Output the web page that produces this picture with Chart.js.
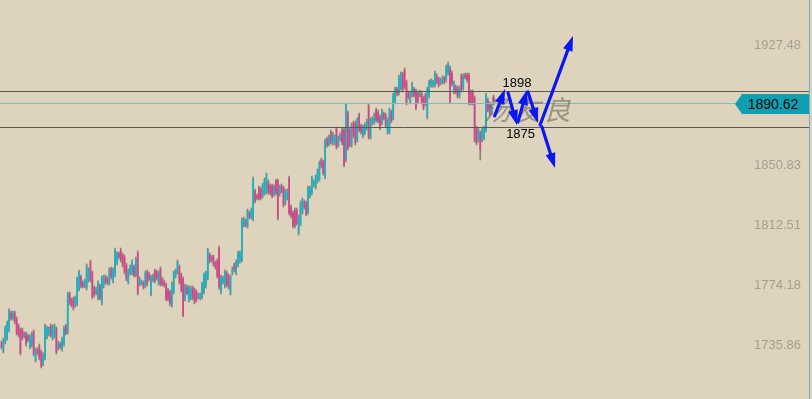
<!DOCTYPE html>
<html>
<head>
<meta charset="utf-8">
<script src="https://cdn.jsdelivr.net/npm/chart.js@4.4.0/dist/chart.umd.min.js"></script>
<style>
html, body { margin: 0; padding: 0; background: #ded4bd; overflow: hidden; }
canvas { display: block; }
</style>
</head>
<body>
<canvas id="GoldBarsChart" width="812" height="399"></canvas>
<script>
// bar values (one entry per bar, oldest first)
var opens = [
    1737.2,1732.0,1737.8,1740.3,1745.5,1756.3,1753.1,1756.3,1752.5,1748.0,
    1745.5,1745.5,1741.6,1742.9,1741.6,1734.6,1735.9,1744.2,1726.3,1732.7,
    1735.2,1731.4,1723.8,1727.6,1741.0,1742.9,1748.0,1740.3,1741.6,1746.1,
    1734.0,1736.5,1733.3,1736.5,1748.0,1744.2,1768.5,1764.6,1765.3,1761.4,
    1762.1,1771.6,1779.3,1775.5,1773.6,1772.3,1777.4,1788.9,1781.9,1772.3,
    1769.1,1765.9,1773.6,1762.7,1773.6,1779.3,1778.0,1775.5,1784.4,1776.8,
    1780.6,1788.2,1794.0,1796.5,1793.3,1792.1,1787.0,1776.1,1781.9,1781.9,
    1785.7,1780.6,1794.6,1774.8,1775.5,1775.5,1773.6,1782.5,1781.2,1768.5,
    1777.4,1783.1,1782.5,1775.5,1784.4,1778.0,1776.1,1774.2,1771.0,1769.7,
    1761.4,1769.7,1779.9,1782.5,1785.7,1780.6,1778.0,1765.3,1772.9,1764.6,
    1765.9,1772.3,1771.0,1769.7,1766.5,1765.9,1766.5,1769.7,1773.6,1778.7,
    1793.3,1792.1,1792.1,1788.2,1789.5,1797.8,1769.7,1776.1,1773.6,1781.9,
    1779.9,1769.1,1781.9,1787.0,1781.9,1787.0,1789.5,1790.2,1812.5,1815.1,
    1811.9,1820.2,1817.6,1816.3,1834.2,1831.0,1836.1,1835.5,1831.0,1833.0,
    1833.6,1840.0,1837.4,1837.4,1832.3,1840.6,1840.6,1832.3,1837.4,1836.1,
    1826.6,1829.8,1842.5,1824.0,1820.2,1822.1,1822.1,1807.4,1813.2,1820.8,
    1827.2,1826.6,1820.8,1831.0,1833.0,1838.1,1836.8,1840.6,1841.9,1854.0,
    1852.8,1843.2,1867.4,1864.2,1871.9,1864.9,1864.9,1873.8,1863.6,1867.4,
    1873.2,1873.2,1854.0,1884.0,1873.2,1863.6,1877.7,1877.7,1866.8,1882.8,
    1875.7,1869.4,1871.3,1874.5,1888.5,1868.7,1877.7,1878.3,1886.0,1884.7,
    1881.5,1877.7,1883.4,1882.8,1871.9,1871.9,1884.7,1880.9,1891.1,1899.4,
    1896.8,1900.0,1909.0,1911.5,1903.8,1896.8,1891.1,1895.5,1899.4,1898.1,
    1896.8,1895.5,1896.8,1893.6,1895.5,1881.5,1894.9,1901.9,1901.9,1901.9,
    1907.7,1905.8,1903.2,1903.8,1906.4,1905.1,1909.6,1912.8,1909.6,1897.5,
    1900.6,1900.0,1894.9,1907.7,1900.0,1908.3,1908.3,1908.3,1897.5,1897.5,
    1893.6,1874.5,1866.8,1871.3,1866.8,1868.1,1873.2,1892.3,1889.8,1884.7,1894.3
];
var highs = [
    1738.4,1740.3,1748.0,1751.2,1758.9,1757.6,1757.6,1757.6,1753.8,1749.3,
    1746.7,1746.7,1744.2,1744.2,1742.9,1742.3,1744.2,1745.5,1734.0,1734.0,
    1736.5,1732.7,1730.8,1749.3,1748.0,1747.4,1749.3,1748.6,1749.3,1747.4,
    1738.4,1737.8,1741.0,1748.0,1749.3,1769.7,1769.7,1765.9,1766.5,1767.2,
    1779.3,1783.8,1780.6,1776.8,1778.0,1787.6,1785.1,1790.2,1783.1,1773.6,
    1772.9,1776.8,1774.8,1779.9,1780.6,1780.6,1779.3,1785.1,1785.7,1785.1,
    1797.8,1795.3,1795.3,1797.8,1794.6,1793.3,1788.2,1784.4,1787.0,1790.2,
    1787.0,1792.1,1795.9,1779.3,1777.4,1776.8,1783.1,1783.8,1782.5,1780.6,
    1781.2,1784.4,1783.8,1783.1,1785.7,1779.3,1777.4,1775.5,1772.3,1771.0,
    1776.1,1783.1,1784.4,1790.2,1787.0,1781.9,1779.3,1774.8,1774.2,1773.6,
    1773.6,1773.6,1772.3,1771.0,1769.1,1769.1,1776.1,1781.9,1783.1,1797.8,
    1794.6,1793.3,1793.3,1789.5,1790.8,1799.1,1780.6,1779.9,1783.8,1783.1,
    1781.2,1780.6,1785.7,1788.2,1790.2,1795.9,1795.9,1817.0,1817.6,1816.3,
    1822.7,1821.5,1823.4,1843.2,1835.5,1832.3,1837.4,1836.8,1839.3,1842.5,
    1845.7,1841.3,1838.7,1838.7,1838.1,1841.9,1841.9,1838.1,1838.7,1837.4,
    1835.5,1835.5,1843.8,1825.3,1821.5,1823.4,1823.4,1818.9,1827.8,1829.8,
    1828.5,1827.8,1837.4,1837.4,1843.8,1841.3,1844.4,1848.3,1853.4,1855.3,
    1854.0,1867.4,1868.7,1870.0,1873.2,1871.9,1870.0,1875.1,1869.4,1871.3,
    1874.5,1874.5,1890.4,1885.3,1874.5,1877.7,1878.9,1878.9,1880.9,1884.0,
    1877.0,1876.4,1877.7,1880.2,1889.8,1880.9,1881.5,1884.0,1887.2,1886.0,
    1882.8,1886.6,1884.7,1884.0,1880.9,1887.2,1886.0,1896.8,1900.6,1900.6,
    1908.3,1910.2,1910.2,1912.8,1905.1,1898.1,1898.1,1903.8,1900.6,1899.4,
    1898.1,1898.7,1898.1,1894.9,1896.8,1900.6,1905.1,1905.8,1905.1,1910.9,
    1909.0,1907.0,1906.4,1907.7,1907.7,1914.7,1916.6,1914.1,1910.9,1904.5,
    1901.9,1901.3,1901.3,1909.0,1909.0,1909.6,1909.6,1909.6,1898.7,1898.7,
    1894.9,1875.7,1874.5,1872.5,1874.5,1875.7,1896.8,1893.6,1891.1,1890.4,1895.5
];
var lows = [
    1733.3,1730.8,1736.5,1739.1,1744.2,1751.8,1751.8,1749.3,1742.3,1741.0,
    1729.5,1739.1,1740.3,1735.2,1737.8,1733.3,1734.6,1728.9,1725.0,1729.5,
    1726.3,1721.2,1722.5,1726.3,1739.7,1741.6,1741.0,1739.1,1740.3,1730.1,
    1732.7,1733.3,1732.0,1735.2,1742.3,1742.9,1761.4,1760.1,1758.2,1760.1,
    1760.8,1770.4,1772.3,1772.3,1772.3,1771.0,1776.1,1776.1,1765.3,1766.5,
    1767.8,1764.6,1764.6,1761.4,1772.3,1774.8,1774.2,1774.2,1778.0,1775.5,
    1779.3,1787.0,1790.8,1788.9,1785.7,1781.2,1776.8,1774.8,1780.6,1780.6,
    1779.3,1779.3,1767.8,1773.6,1774.2,1771.6,1772.3,1773.6,1776.8,1767.2,
    1776.1,1775.5,1777.4,1774.2,1773.6,1773.6,1772.9,1764.0,1764.0,1760.8,
    1760.1,1768.5,1778.7,1781.2,1774.8,1769.7,1753.8,1764.0,1767.8,1763.3,
    1764.6,1764.6,1762.1,1763.3,1765.3,1764.6,1765.3,1768.5,1772.3,1777.4,
    1788.2,1788.9,1786.3,1784.4,1778.7,1771.6,1768.5,1774.8,1772.3,1772.9,
    1771.6,1767.8,1780.6,1782.5,1780.6,1785.7,1788.2,1788.9,1811.2,1811.2,
    1810.6,1816.3,1816.3,1815.1,1826.6,1828.5,1828.5,1828.5,1829.8,1831.7,
    1832.3,1832.3,1831.7,1829.8,1831.0,1831.7,1815.7,1831.0,1833.0,1824.0,
    1825.3,1828.5,1818.9,1817.0,1810.6,1810.6,1812.5,1806.1,1811.9,1819.5,
    1822.7,1818.3,1819.5,1829.8,1831.7,1836.8,1835.5,1839.3,1840.6,1848.9,
    1844.4,1841.9,1862.3,1863.0,1864.2,1863.6,1863.6,1861.0,1862.3,1866.2,
    1863.6,1849.6,1852.8,1860.4,1862.3,1862.3,1868.1,1863.6,1865.5,1871.9,
    1870.6,1868.1,1870.0,1873.2,1867.4,1867.4,1876.4,1877.0,1878.3,1877.7,
    1873.2,1876.4,1879.6,1875.1,1870.6,1870.6,1877.7,1879.6,1889.8,1894.9,
    1895.5,1898.7,1897.5,1899.4,1889.2,1893.0,1889.8,1894.3,1894.3,1886.0,
    1890.4,1894.3,1889.8,1886.0,1888.5,1880.2,1893.6,1900.6,1900.6,1900.6,
    1902.6,1900.6,1901.9,1902.6,1902.6,1903.8,1908.3,1889.8,1901.3,1896.2,
    1896.2,1893.6,1893.6,1897.5,1898.7,1905.8,1903.8,1889.2,1889.2,1889.2,
    1865.5,1863.6,1865.5,1854.0,1865.5,1866.8,1871.9,1884.7,1882.1,1883.4,1889.2
];
var closes = [
    1734.6,1739.1,1746.7,1749.9,1757.6,1753.1,1756.3,1750.6,1743.5,1742.3,
    1730.8,1740.3,1742.9,1736.5,1739.1,1741.0,1742.9,1730.1,1732.7,1730.8,
    1727.6,1722.5,1729.5,1748.0,1746.7,1746.1,1742.3,1747.4,1748.0,1731.4,
    1737.2,1734.6,1739.7,1746.7,1743.5,1768.5,1762.7,1761.4,1759.5,1765.9,
    1778.0,1782.5,1773.6,1773.6,1776.8,1786.3,1783.8,1777.4,1766.5,1767.8,
    1771.6,1775.5,1765.9,1778.7,1779.3,1776.1,1775.5,1783.8,1779.3,1783.8,
    1796.5,1794.0,1792.1,1790.2,1787.0,1782.5,1778.0,1783.1,1785.7,1788.9,
    1780.6,1790.8,1769.1,1778.0,1776.1,1772.9,1781.9,1774.8,1778.0,1779.3,
    1779.9,1776.8,1778.7,1781.9,1774.8,1774.8,1774.2,1765.3,1765.3,1762.1,
    1774.8,1781.9,1783.1,1788.9,1776.1,1771.0,1755.0,1773.6,1769.1,1772.3,
    1772.3,1765.9,1763.3,1764.6,1767.8,1767.8,1774.8,1780.6,1781.9,1796.5,
    1789.5,1790.2,1787.6,1785.7,1779.9,1772.9,1779.3,1778.7,1782.5,1774.2,
    1772.9,1779.3,1784.4,1783.8,1788.9,1794.6,1794.6,1815.7,1816.3,1812.5,
    1821.5,1817.6,1822.1,1841.9,1827.8,1829.8,1829.8,1829.8,1838.1,1841.3,
    1844.4,1833.6,1833.0,1831.0,1836.8,1833.0,1817.0,1836.8,1834.2,1825.3,
    1834.2,1834.2,1820.2,1818.3,1811.9,1811.9,1813.8,1817.6,1826.6,1828.5,
    1824.0,1819.5,1836.1,1836.1,1842.5,1840.0,1843.2,1847.0,1852.1,1850.2,
    1845.7,1866.2,1863.6,1868.7,1865.5,1870.6,1868.7,1862.3,1868.1,1870.0,
    1864.9,1850.8,1889.2,1861.7,1863.6,1876.4,1869.4,1864.9,1879.6,1873.2,
    1871.9,1875.1,1876.4,1878.9,1868.7,1879.6,1880.2,1882.8,1879.6,1878.9,
    1874.5,1885.3,1880.9,1876.4,1879.6,1886.0,1878.9,1895.5,1899.4,1896.2,
    1907.0,1909.0,1898.7,1900.6,1890.4,1894.3,1896.8,1902.6,1895.5,1887.2,
    1891.7,1897.5,1891.1,1887.2,1889.8,1899.4,1903.8,1904.5,1903.8,1909.6,
    1903.8,1901.9,1905.1,1906.4,1903.8,1913.4,1915.3,1891.1,1902.6,1903.2,
    1897.5,1894.9,1900.0,1898.7,1907.7,1907.0,1905.1,1890.4,1890.4,1890.4,
    1866.8,1864.9,1873.2,1860.4,1873.2,1874.5,1895.5,1886.0,1883.4,1889.2,1890.62
];

var priceTicks = [1927.48, 1850.83, 1812.51, 1774.18, 1735.86];
var levelLines = [1898, 1875];
var levelLabels = ["1898", "1875"];
var lastPrice = 1890.62;
var watermarkText = "汤友良";

// hand drawn arrows: [from bar, from price, to bar, to price]
var arrowPaths = [
    [260.6, 1882.2, 266.1, 1899.4],
    [267.7, 1896.8, 272.4, 1876.4],
    [272.9, 1878.3, 277.7, 1898.7],
    [278.2, 1897.5, 283.5, 1877.7],
    [284.6, 1876.4, 302.0, 1933.2],
    [285.6, 1875.1, 292.5, 1848.9]
];
var labelBars = [272.4, 274.3];
var labelPrices = [1903.2, 1870.6];
var watermarkBar = 277.7;
var watermarkPrice = 1886.0;

var UP_COLOR = "#12b4c8";
var DOWN_COLOR = "#d8418c";
var WICK_COLOR = "#8a8478";
var FONT = '"Liberation Sans", Arial, sans-serif';


function drawArrow(ctx, x0, y0, x1, y1) {
    var ang = Math.atan2(y1 - y0, x1 - x0);
    var len = 15, half = 5;
    var bx = x1 - Math.cos(ang) * len, by = y1 - Math.sin(ang) * len;
    ctx.beginPath();
    ctx.moveTo(x0, y0);
    ctx.lineTo(bx, by);
    ctx.stroke();
    ctx.beginPath();
    ctx.moveTo(x1, y1);
    ctx.lineTo(bx + Math.sin(ang) * half, by - Math.cos(ang) * half);
    ctx.lineTo(bx - Math.sin(ang) * half, by + Math.cos(ang) * half);
    ctx.closePath();
    ctx.fill();
}


var overlayPlugin = {
    id: "overlay",
    afterDatasetsDraw: function (chart) {
        var ctx = chart.ctx;
        var xs = chart.scales.x, ys = chart.scales.y;
        var area = chart.chartArea;
        ctx.save();

        // current price line
        var py = Math.round(ys.getPixelForValue(lastPrice)) + 0.5;
        ctx.strokeStyle = "#7fbcbf";
        ctx.lineWidth = 1;
        ctx.beginPath();
        ctx.moveTo(area.left, py);
        ctx.lineTo(area.right, py);
        ctx.stroke();

        // horizontal levels
        ctx.strokeStyle = "#5c5850";
        for (var i = 0; i < levelLines.length; i++) {
            var ly = Math.round(ys.getPixelForValue(levelLines[i])) + 0.5;
            ctx.beginPath();
            ctx.moveTo(area.left, ly);
            ctx.lineTo(area.right, ly);
            ctx.stroke();
        }

        // watermark, one glyph at a time so it spreads like the original
        var wx = xs.getPixelForValue(watermarkBar), wy = ys.getPixelForValue(watermarkPrice);
        ctx.font = "italic 27px 'Noto Sans CJK SC'";
        ctx.textAlign = "center";
        ctx.textBaseline = "middle";
        ctx.fillStyle = "rgba(112,106,96,0.62)";
        var chars = Array.from(watermarkText);
        for (var c = 0; c < chars.length; c++) {
            ctx.fillText(chars[c], wx + (c - 1) * 30, wy);
        }

        // arrows
        ctx.strokeStyle = "#0b17f2";
        ctx.fillStyle = "#0b17f2";
        ctx.lineWidth = 3.2;
        ctx.lineCap = "round";
        arrowPaths.forEach(function (a) {
            drawArrow(ctx, xs.getPixelForValue(a[0]), ys.getPixelForValue(a[1]),
                      xs.getPixelForValue(a[2]), ys.getPixelForValue(a[3]));
        });

        // level labels
        ctx.font = "13px " + FONT;
        ctx.fillStyle = "#000000";
        for (var j = 0; j < levelLabels.length; j++) {
            ctx.fillText(levelLabels[j], xs.getPixelForValue(labelBars[j]), ys.getPixelForValue(labelPrices[j]));
        }
        ctx.restore();
    },
    afterDraw: function (chart) {
        // price tag on the axis
        var ctx = chart.ctx, ys = chart.scales.y;
        var y = Math.round(ys.getPixelForValue(lastPrice)) + 1;
        var r = ys.left;
        ctx.save();
        ctx.fillStyle = "#109fb1";
        ctx.beginPath();
        ctx.moveTo(r, y - 10);
        ctx.lineTo(r - 67, y - 10);
        ctx.lineTo(r - 74, y);
        ctx.lineTo(r - 67, y + 10);
        ctx.lineTo(r, y + 10);
        ctx.closePath();
        ctx.fill();
        ctx.fillStyle = "#000000";
        ctx.font = "14px " + FONT;
        ctx.textAlign = "center";
        ctx.textBaseline = "middle";
        ctx.fillText(lastPrice.toFixed(2), r - 36, y + 1);
        ctx.restore();
    }
};


document.addEventListener("DOMContentLoaded", function () {
    var bodies = [], wicks = [], colors = [];
    for (var i = 0; i < opens.length; i++) {
        bodies.push({x: i, y: [opens[i], closes[i]]});
        wicks.push({x: i, y: [lows[i], highs[i]]});
        colors.push(closes[i] >= opens[i] ? UP_COLOR : DOWN_COLOR);
    }

    var canvas = document.getElementById("GoldBarsChart");
    new Chart(canvas, {
        type: "bar",
        data: {
            datasets: [
                {label: "body", data: bodies, backgroundColor: colors, barThickness: 1, grouped: false, order: 1},
                {label: "wick", data: wicks, backgroundColor: WICK_COLOR, barThickness: 1, grouped: false, order: 2}
            ]
        },
        options: {
            responsive: false,
            animation: false,
            devicePixelRatio: 1,
            layout: {padding: {left: 0, right: 3, top: 0, bottom: 0}},
            plugins: {legend: {display: false}, tooltip: {enabled: false}},
            scales: {
                x: {type: "linear", min: -0.79, max: 426.7, display: false, offset: false},
                y: {
                    position: "right",
                    min: 1701.38,
                    max: 1956.22,
                    afterFit: function (s) { s.width = 0; s.paddingTop = 0; s.paddingBottom = 0; },
                    afterBuildTicks: function (s) {
                        s.ticks = priceTicks.map(function (v) { return {value: v}; });
                    },
                    grid: {display: false, drawTicks: false},
                    border: {display: true, color: "#76acd3"},
                    ticks: {
                        mirror: true,
                        padding: -8,
                        color: "#a59e93",
                        font: {family: FONT, size: 13},
                        callback: function (v) { return Number(v).toFixed(2); }
                    }
                }
            }
        },
        plugins: [overlayPlugin]
    });
});
</script>
</body>
</html>
